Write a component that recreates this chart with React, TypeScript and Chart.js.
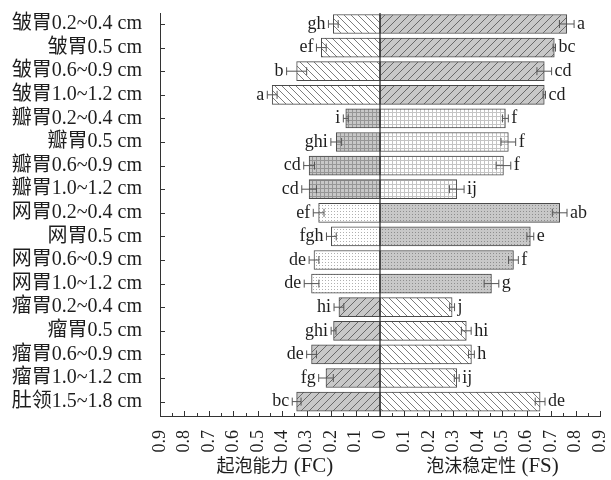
import React, { useEffect, useRef } from "react";
import { Chart, registerables } from "chart.js";

Chart.register(...registerables);

// Sample groups (top to bottom)
const categories = [
  "皱胃0.2~0.4 cm",
  "皱胃0.5 cm",
  "皱胃0.6~0.9 cm",
  "皱胃1.0~1.2 cm",
  "瓣胃0.2~0.4 cm",
  "瓣胃0.5 cm",
  "瓣胃0.6~0.9 cm",
  "瓣胃1.0~1.2 cm",
  "网胃0.2~0.4 cm",
  "网胃0.5 cm",
  "网胃0.6~0.9 cm",
  "网胃1.0~1.2 cm",
  "瘤胃0.2~0.4 cm",
  "瘤胃0.5 cm",
  "瘤胃0.6~0.9 cm",
  "瘤胃1.0~1.2 cm",
  "肚领1.5~1.8 cm",
];

// Foaming capacity (FC)
const fcValues = [0.191, 0.240, 0.341, 0.441, 0.140, 0.179, 0.290, 0.290, 0.251, 0.199, 0.270, 0.280, 0.168, 0.190, 0.280, 0.221, 0.341];
const fcErr = [0.02, 0.02, 0.041, 0.02, 0.01, 0.022, 0.022, 0.03, 0.022, 0.02, 0.02, 0.03, 0.02, 0.01, 0.02, 0.03, 0.018];
const fcSig = ["gh", "ef", "b", "a", "i", "ghi", "cd", "cd", "ef", "fgh", "de", "de", "hi", "ghi", "de", "fg", "bc"];

// Foam stability (FS)
const fsValues = [0.764, 0.713, 0.672, 0.672, 0.513, 0.525, 0.505, 0.314, 0.735, 0.615, 0.546, 0.456, 0.295, 0.353, 0.374, 0.314, 0.655];
const fsErr = [0.03, 0.005, 0.03, 0.005, 0.012, 0.03, 0.03, 0.03, 0.03, 0.014, 0.02, 0.03, 0.01, 0.02, 0.012, 0.01, 0.02];
const fsSig = ["a", "bc", "cd", "cd", "f", "f", "f", "ij", "ab", "e", "f", "g", "j", "hi", "h", "ij", "de"];

// Axis tick values and titles (CJK part, Latin part)
const xTickStep = 0.1;
const xMinorStep = 0.05;
const xLimit = 0.9;
const fcTitle = ["起泡能力", " (FC)"];
const fsTitle = ["泡沫稳定性", " (FS)"];

// Fill style per tissue block (four rows each, last block five rows)
const fcStyles = ["whiteBack", "greyGrid", "whiteDots", "greyFwd"];
const fsStyles = ["greyFwd", "whiteGrid", "greyDots", "whiteBack"];

const SERIF = '"Liberation Serif", "Times New Roman", "Noto Sans CJK SC", serif';
const CJK = '"Noto Sans CJK SC", "Liberation Serif", serif';
const INK = "#1e1e1e";
const GREY_BG = "#c8c8c8";

function blockOf(i: number) {
  return i < 4 ? 0 : i < 8 ? 1 : i < 12 ? 2 : 3;
}

function makePattern(kind: string): CanvasPattern | string {
  const c = document.createElement("canvas");
  const grey = kind.startsWith("grey");
  let s = 7;
  if (kind.endsWith("Grid")) s = 4;
  if (kind.endsWith("Dots")) s = 3;
  if (kind.endsWith("Fwd")) s = 8;
  c.width = s;
  c.height = s;
  const g = c.getContext("2d")!;
  g.fillStyle = grey ? GREY_BG : "#ffffff";
  g.fillRect(0, 0, s, s);
  if (kind.endsWith("Back") || kind.endsWith("Fwd")) {
    g.strokeStyle = grey ? "#5e5e5e" : "#6e6e6e";
    g.lineWidth = 0.9;
    for (const o of [-s, 0, s]) {
      g.beginPath();
      if (kind.endsWith("Back")) {
        g.moveTo(o, 0);
        g.lineTo(o + s, s);
      } else {
        g.moveTo(o + s, 0);
        g.lineTo(o, s);
      }
      g.stroke();
    }
  } else if (kind.endsWith("Grid")) {
    g.fillStyle = grey ? "#969696" : "#c4c4c4";
    g.fillRect(0, 0, 1, s);
    g.fillRect(0, 0, s, 1);
  } else {
    g.fillStyle = grey ? "#8e8e8e" : "#b0b0b0";
    g.fillRect(1, 1, 1, 1);
  }
  return g.createPattern(c, "repeat") || (grey ? GREY_BG : "#fff");
}

function fmtTick(v: number) {
  const a = Math.abs(v);
  if (a < 1e-6) return "0";
  return a.toFixed(1);
}

// Two-font title: CJK glyphs slightly smaller than the Latin part
function drawTitle(ctx: CanvasRenderingContext2D, parts: string[], cx: number, cy: number) {
  const cjkFont = `18px ${CJK}`;
  const latFont = `21px ${SERIF}`;
  ctx.font = cjkFont;
  const w1 = ctx.measureText(parts[0]).width;
  ctx.font = latFont;
  const w2 = ctx.measureText(parts[1]).width;
  let x = cx - (w1 + w2) / 2;
  ctx.textAlign = "left";
  ctx.textBaseline = "alphabetic";
  ctx.font = cjkFont;
  ctx.fillText(parts[0], x, cy + 6);
  ctx.font = latFont;
  ctx.fillText(parts[1], x + w1, cy + 6);
}

const decorPlugin = {
  id: "decor",
  afterDatasetsDraw(chart: any) {
    const { ctx, chartArea, scales } = chart;
    const xs = scales.x;
    const ys = scales.y;
    ctx.save();

    // Zero line
    const x0 = xs.getPixelForValue(0);
    ctx.strokeStyle = "#333";
    ctx.lineWidth = 1.3;
    ctx.beginPath();
    ctx.moveTo(x0, chartArea.top);
    ctx.lineTo(x0, chartArea.bottom);
    ctx.stroke();

    // Error bars and significance letters
    const series = [
      { idx: 0, vals: fcValues, errs: fcErr, sig: fcSig, sign: -1 },
      { idx: 1, vals: fsValues, errs: fsErr, sig: fsSig, sign: 1 },
    ];
    ctx.font = `18px ${SERIF}`;
    ctx.textBaseline = "middle";
    for (const s of series) {
      const meta = chart.getDatasetMeta(s.idx);
      meta.data.forEach((bar: any, i: number) => {
        const y = bar.y;
        const lo = xs.getPixelForValue(s.sign * (s.vals[i] - s.errs[i]));
        const hi = xs.getPixelForValue(s.sign * (s.vals[i] + s.errs[i]));
        ctx.strokeStyle = "#555";
        ctx.lineWidth = 1;
        ctx.beginPath();
        ctx.moveTo(lo, y);
        ctx.lineTo(hi, y);
        ctx.moveTo(lo, y - 4);
        ctx.lineTo(lo, y + 4);
        ctx.moveTo(hi, y - 4);
        ctx.lineTo(hi, y + 4);
        ctx.stroke();
        ctx.fillStyle = INK;
        if (s.sign < 0) {
          ctx.textAlign = "right";
          ctx.fillText(s.sig[i], hi - 3, y);
        } else {
          ctx.textAlign = "left";
          ctx.fillText(s.sig[i], hi + 3, y);
        }
      });
    }

    // Inward tick marks on the x axis
    ctx.strokeStyle = "#333";
    ctx.lineWidth = 1;
    const nMinor = Math.round((2 * xLimit) / xMinorStep);
    ctx.beginPath();
    for (let k = 0; k <= nMinor; k++) {
      const v = -xLimit + k * xMinorStep;
      const px = Math.round(xs.getPixelForValue(v)) + 0.5;
      const major = k % 2 === 0;
      ctx.moveTo(px, chartArea.bottom);
      ctx.lineTo(px, chartArea.bottom - (major ? 5 : 3));
    }
    // Inward tick marks on the y axis
    ys.ticks.forEach((t: any) => {
      const py = Math.round(ys.getPixelForValue(t.value)) + 0.5;
      ctx.moveTo(chartArea.left, py);
      ctx.lineTo(chartArea.left + 5, py);
    });
    ctx.stroke();

    // Axis titles for each half
    ctx.fillStyle = INK;
    drawTitle(ctx, fcTitle, xs.getPixelForValue(-0.43), 466);
    drawTitle(ctx, fsTitle, xs.getPixelForValue(0.46), 466);
    ctx.restore();
  },
};

export default function App() {
  const ref = useRef<HTMLCanvasElement>(null);

  useEffect(() => {
    document.body.style.margin = "0";
    const canvas = ref.current!;
    const fcFills = categories.map((_, i) => makePattern(fcStyles[blockOf(i)]));
    const fsFills = categories.map((_, i) => makePattern(fsStyles[blockOf(i)]));

    const chart = new Chart(canvas, {
      type: "bar",
      data: {
        datasets: [
          {
            label: fcTitle.join(""),
            data: fcValues.map((v, i) => ({ x: -v, y: i })),
            backgroundColor: fcFills as any,
            borderColor: "#4a4a4a",
            borderWidth: 1,
            borderSkipped: false,
            grouped: false,
            barThickness: 19,
          } as any,
          {
            label: fsTitle.join(""),
            data: fsValues.map((v, i) => ({ x: v, y: i })),
            backgroundColor: fsFills as any,
            borderColor: "#4a4a4a",
            borderWidth: 1,
            borderSkipped: false,
            grouped: false,
            barThickness: 19,
          } as any,
        ],
      },
      options: {
        indexAxis: "y",
        responsive: false,
        animation: false,
        events: [],
        layout: { padding: { left: 0, right: 11, top: 13, bottom: 0 } },
        plugins: { legend: { display: false }, tooltip: { enabled: false }, title: { display: false } },
        scales: {
          x: {
            type: "linear",
            min: -xLimit,
            max: xLimit,
            offset: false,
            grid: { display: false },
            border: { display: true, color: "#333", width: 1 },
            ticks: {
              stepSize: xTickStep,
              autoSkip: false,
              minRotation: 90,
              maxRotation: 90,
              padding: 6,
              color: INK,
              font: { family: SERIF, size: 18 },
              callback: (v: any) => fmtTick(Number(v)),
            },
            afterFit: (s: any) => {
              s.height = 64;
              s.paddingLeft = 0;
              s.paddingRight = 0;
            },
          },
          y: {
            type: "linear",
            reverse: true,
            offset: false,
            min: -0.466,
            max: 16.61,
            grid: { display: false },
            border: { display: true, color: "#333", width: 1 },
            afterBuildTicks: (s: any) => {
              s.ticks = categories.map((_, i) => ({ value: i }));
            },
            ticks: {
              autoSkip: false,
              padding: 10,
              color: INK,
              font: { family: SERIF, size: 20 },
              callback: (v: any) => categories[Math.round(Number(v))] ?? "",
            },
            afterFit: (s: any) => {
              s.width = 160;
              s.paddingTop = 0;
              s.paddingBottom = 0;
            },
          },
        },
      } as any,
      plugins: [decorPlugin],
    });
    return () => chart.destroy();
  }, []);

  return (
    <div style={{ width: 611, height: 480, background: "#fff" }}>
      <canvas ref={ref} width={611} height={480} style={{ display: "block" }} />
    </div>
  );
}
